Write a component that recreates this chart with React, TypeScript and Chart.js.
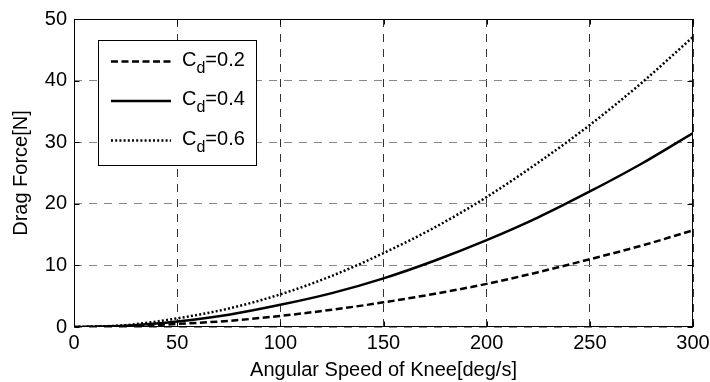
import { useEffect, useRef } from 'react';
import { Chart, registerables } from 'chart.js';

Chart.register(...registerables);

const speeds = [0, 25, 50, 75, 100, 125, 150, 175, 200, 225, 250, 275, 300];
const cd02 = [0, 0.1, 0.5, 1.0, 1.8, 2.8, 4.0, 5.4, 7.0, 8.9, 11.0, 13.2, 15.7];
const cd04 = [0, 0.2, 0.9, 2.0, 3.6, 5.5, 7.9, 10.8, 14.1, 17.8, 22.0, 26.5, 31.5];
const cd06 = [0, 0.3, 1.4, 3.0, 5.3, 8.3, 12.0, 16.2, 21.1, 26.7, 32.8, 39.6, 47.1];
const cdValues = ['0.2', '0.4', '0.6'];
const xTitle = 'Angular Speed of Knee[deg/s]';
const yTitle = 'Drag Force[N]';

const FONT = "'Liberation Sans', Arial, Helvetica, sans-serif";
const FS = 20;

export default function App() {
  const ref = useRef<HTMLCanvasElement>(null);

  useEffect(() => {
    if (!ref.current) return;
    const seriesList = [cd02, cd04, cd06];
    const dashes = [[7, 3.5], [], [2, 2.2]];

    const framePlugin = {
      id: 'frame',
      afterDatasetsDraw(chart: any) {
        const { ctx, chartArea: a, scales } = chart;
        ctx.save();
        ctx.strokeStyle = '#000';
        ctx.lineWidth = 1;
        ctx.setLineDash([]);
        const L = Math.round(a.left) + 0.5;
        const R = Math.round(a.right) - 0.5;
        const T = Math.round(a.top) + 0.5;
        const B = Math.round(a.bottom) - 0.5;
        ctx.strokeRect(L, T, R - L, B - T);
        const tl = 5;
        ctx.beginPath();
        scales.x.ticks.forEach((t: any) => {
          const px = Math.round(scales.x.getPixelForValue(t.value)) + 0.5;
          ctx.moveTo(px, B); ctx.lineTo(px, B - tl);
          ctx.moveTo(px, T); ctx.lineTo(px, T + tl);
        });
        scales.y.ticks.forEach((t: any) => {
          const py = Math.round(scales.y.getPixelForValue(t.value)) + 0.5;
          ctx.moveTo(L, py); ctx.lineTo(L + tl, py);
          ctx.moveTo(R, py); ctx.lineTo(R - tl, py);
        });
        ctx.stroke();

        // legend
        const bx = 98.5, by = 40.5, bw = 158, bh = 125;
        ctx.fillStyle = '#fff';
        ctx.fillRect(bx, by, bw, bh);
        ctx.strokeRect(bx, by, bw, bh);
        chart.data.datasets.forEach((ds: any, i: number) => {
          const y = 61.5 + i * 39.5;
          ctx.save();
          ctx.strokeStyle = '#000';
          ctx.lineWidth = ds.borderWidth;
          ctx.setLineDash(ds.borderDash || []);
          ctx.beginPath();
          ctx.moveTo(111, y);
          ctx.lineTo(171, y);
          ctx.stroke();
          ctx.restore();
          ctx.fillStyle = '#000';
          ctx.textBaseline = 'alphabetic';
          ctx.textAlign = 'left';
          ctx.font = `${FS}px ${FONT}`;
          let x = 182;
          const base = y + 4;
          ctx.fillText('C', x, base);
          x += ctx.measureText('C').width;
          ctx.font = `16px ${FONT}`;
          ctx.fillText('d', x, base + 7);
          x += ctx.measureText('d').width;
          ctx.font = `${FS}px ${FONT}`;
          ctx.fillText('=' + cdValues[i], x, base);
        });
        ctx.restore();
      },
    };

    const chart = new Chart(ref.current, {
      type: 'line',
      data: {
        labels: speeds,
        datasets: seriesList.map((s, i) => ({
          label: 'C_d=' + cdValues[i],
          data: s.map((v, j) => ({ x: speeds[j], y: v })),
          borderColor: '#000',
          backgroundColor: '#000',
          borderWidth: 2.5,
          borderDash: dashes[i],
          borderCapStyle: 'butt',
          pointRadius: 0,
          fill: false,
          cubicInterpolationMode: 'monotone',
        })),
      },
      options: {
        animation: false,
        responsive: false,
        devicePixelRatio: 1,
        layout: { padding: { top: 19, right: 17, left: 0, bottom: 0 } },
        plugins: { legend: { display: false }, tooltip: { enabled: false } },
        scales: {
          x: {
            type: 'linear',
            min: 0,
            max: 300,
            ticks: { stepSize: 50, color: '#000', font: { size: FS, family: FONT }, padding: 4, maxRotation: 0 },
            grid: { color: '#333', lineWidth: 1, drawTicks: false },
            border: { display: false, dash: [8, 7] },
            title: { display: true, text: xTitle, color: '#000', font: { size: FS, family: FONT }, padding: { top: 0, bottom: 0 } },
            afterFit: (scale: any) => { scale.height = 55; scale.paddingRight = 0; scale.paddingLeft = 0; },
          },
          y: {
            type: 'linear',
            min: 0,
            max: 50,
            ticks: { stepSize: 10, color: '#000', font: { size: FS, family: FONT }, padding: 7 },
            grid: { color: '#888', lineWidth: 1, drawTicks: false },
            border: { display: false, dash: [8, 7] },
            title: { display: true, text: yTitle, color: '#000', font: { size: FS, family: FONT }, padding: { top: 9, bottom: 0 } },
            afterFit: (scale: any) => { scale.width = 74; },
          },
        },
      },
      plugins: [framePlugin],
    } as any);
    return () => chart.destroy();
  }, []);

  return (
    <div style={{ position: 'absolute', left: 0, top: 0, width: 710, height: 382, background: '#fff' }}>
      <canvas ref={ref} width={710} height={382} style={{ display: 'block' }} />
    </div>
  );
}
